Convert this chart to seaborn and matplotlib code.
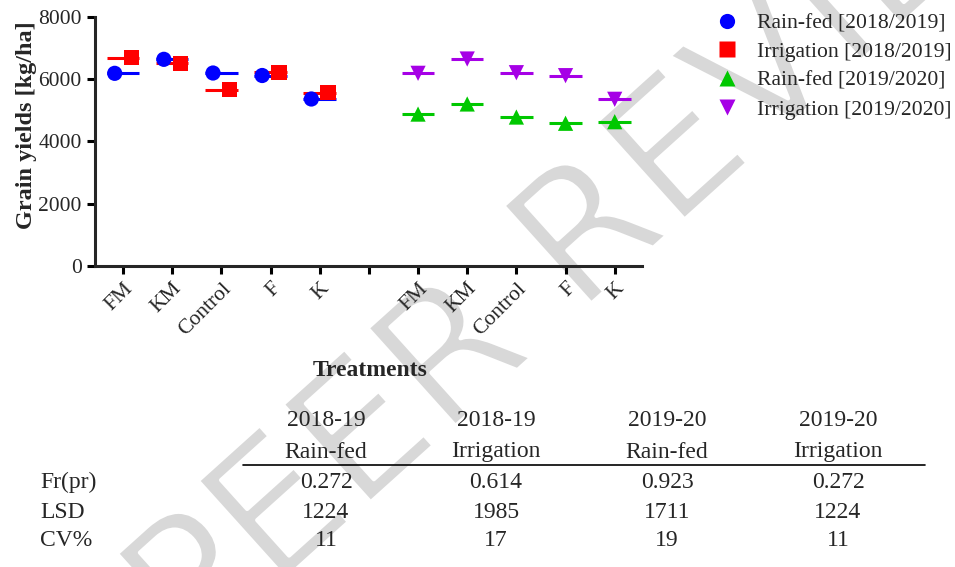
"""Grain yields by treatment, two seasons, rain-fed vs irrigation."""
import matplotlib.patheffects as pe
import matplotlib.pyplot as plt
import numpy as np
import pandas as pd
import seaborn as sns
from matplotlib.lines import Line2D

treatments = ["FM", "KM", "Control", "F", "K"]
rainfed_1819 = [6190, 6640, 6200, 6120, 5365]
irrig_1819 = [6690, 6515, 5660, 6220, 5570]
rainfed_1920 = [4880, 5205, 4785, 4585, 4635]
irrig_1920 = [6190, 6650, 6210, 6115, 5355]

series_names = [
    "Rain-fed [2018/2019]",
    "Irrigation [2018/2019]",
    "Rain-fed [2019/2020]",
    "Irrigation [2019/2020]",
]
colors = ["#0000ff", "#ff0000", "#00c800", "#a600e6"]
markers = ["o", "s", "^", "v"]

table_cols = [("2018-19", "Rain-fed"), ("2018-19", "Irrigation"),
              ("2019-20", "Rain-fed"), ("2019-20", "Irrigation")]
table_rows = ["Fr(pr)", "LSD", "CV%"]
fr_pr = ["0.272", "0.614", "0.923", "0.272"]
lsd = ["1224", "1985", "1711", "1224"]
cv = ["11", "17", "19", "11"]

# x slots: 2018/19 groups at 0-4, a gap at 5, 2019/20 groups at 6-10
base = np.arange(5)
slots = [base, base, base + 6, base + 6]
offsets = [-0.17, 0.17, 0.0, 0.0]
values = [rainfed_1819, irrig_1819, rainfed_1920, irrig_1920]

df = pd.concat(
    [
        pd.DataFrame({"x": s, "pos": s + off, "y": v, "series": name})
        for s, off, v, name in zip(slots, offsets, values, series_names)
    ],
    ignore_index=True,
)

sns.set_style("ticks")
plt.rcParams["font.family"] = ["Liberation Serif", "DejaVu Serif"]
plt.rcParams["axes.linewidth"] = 2.2

fig = plt.figure(figsize=(9.55, 5.67), dpi=100)
ax = fig.add_axes([0.0995, 0.531, 0.5725, 0.439])
ax.patch.set_alpha(0)

palette = dict(zip(series_names, colors))
# mean lines for each group (one point per group, so mean = value)
for name in series_names:
    sub = df[df["series"] == name]
    ax.hlines(sub["y"], sub["x"] - 0.33, sub["x"] + 0.33,
              color=palette[name], lw=2.2, zorder=2)

sns.scatterplot(
    data=df, x="pos", y="y", hue="series", style="series",
    palette=palette, markers=dict(zip(series_names, markers)),
    s=120, edgecolor="none", ax=ax, zorder=3,
)

ax.set_xlim(-0.57, 10.55)
ax.set_ylim(0, 8000)
ax.set_yticks([0, 2000, 4000, 6000, 8000])
ax.set_xticks(np.arange(11))
ax.set_xticklabels(treatments + [""] + treatments, rotation=45,
                   ha="right", rotation_mode="anchor", fontsize=15.5)
ax.tick_params(axis="y", labelsize=15.5)
ax.tick_params(width=2.2, length=6, color="black")
ax.set_xlabel("")
ax.set_ylabel("Grain yields [kg/ha]", fontsize=17.5, fontweight="bold")
ax.yaxis.set_label_coords(-0.106, 0.566)
sns.despine(ax=ax)

sns.move_legend(ax, "upper left", bbox_to_anchor=(0.7245, 1.0),
                bbox_transform=fig.transFigure, frameon=False, title=None,
                fontsize=15.6, handletextpad=0.4, labelspacing=0.4,
                borderaxespad=0.2)

fig.text(370 / 955, 1 - 370 / 567, "Treatments", ha="center", va="center",
         fontsize=17, fontweight="bold")

# statistics table under the chart
col_x = [326, 496, 667, 838]
for cx, (yr, trt) in zip(col_x, table_cols):
    fig.text(cx / 955, 1 - 420 / 567, yr, ha="center", va="center", fontsize=17)
    fig.text(cx / 955, 1 - 452 / 567, trt, ha="center", va="center", fontsize=17)
fig.add_artist(Line2D([243 / 955, 925 / 955], [1 - 465 / 567] * 2,
                      transform=fig.transFigure, color="black", lw=1.2))
row_y = [482, 512, 541]
for ry, lab, vals in zip(row_y, table_rows, [fr_pr, lsd, cv]):
    fig.text(40 / 955, 1 - ry / 567, lab, ha="left", va="center", fontsize=17)
    for cx, v in zip(col_x, vals):
        fig.text(cx / 955, 1 - ry / 567, v, ha="center", va="center", fontsize=17)

# review watermark, behind everything; a white outline thins the strokes
fig.text(615 / 955, 1 - 215 / 567, "PEER REVIEW", ha="center", va="center",
         rotation=42, fontsize=130, color="#d8d8d8", family="DejaVu Sans",
         zorder=-1,
         path_effects=[pe.Normal(), pe.Stroke(linewidth=3, foreground="white")])

fig.savefig("out.png", dpi=100)
plt.close(fig)
